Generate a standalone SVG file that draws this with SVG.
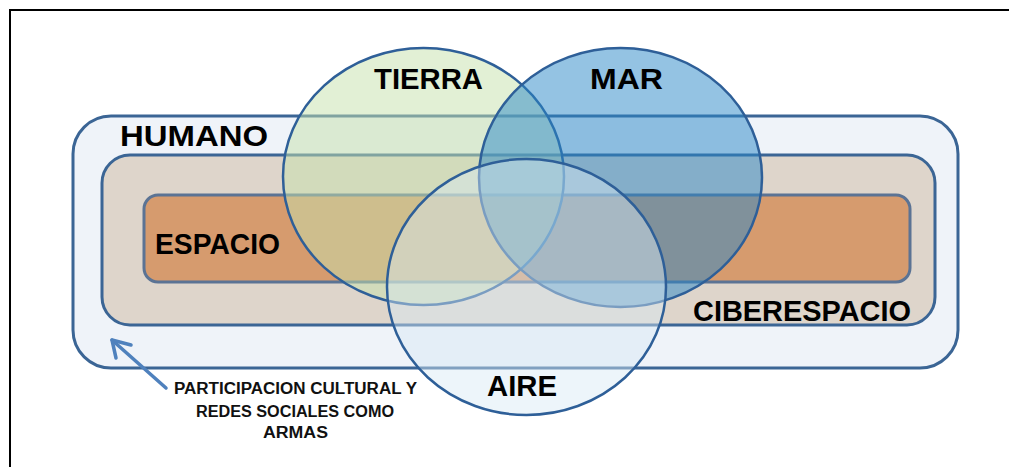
<svg xmlns="http://www.w3.org/2000/svg" width="1009" height="467" viewBox="0 0 1009 467">
<style>
.frame{fill:none;stroke:#000;stroke-width:2}
.box{stroke:#3b6595;stroke-width:3}
.circ{stroke:#2e5f98;stroke-width:2.5}
.big{font-family:"Liberation Sans",Arial,sans-serif;font-weight:bold;font-size:30px;fill:#000}
.small{font-family:"Liberation Sans",Arial,sans-serif;font-weight:bold;font-size:16px;fill:#111;text-anchor:middle}
.arrow{fill:none;stroke:#4f81bd;stroke-width:3.5;stroke-linecap:round;stroke-linejoin:round}
</style>
<rect width="1009" height="467" fill="#fff"/>
<path class="frame" d="M10,467 V10 H1009"/>
<g id="humano">
<rect class="box" x="73" y="116" width="885" height="252" rx="38" fill="#eff3f9"/>
<text class="big" x="120" y="146" textLength="148" lengthAdjust="spacingAndGlyphs">HUMANO</text>
</g>
<g id="ciberespacio">
<rect class="box" x="102" y="155" width="833" height="170" rx="28" fill="#ded5cb"/>
<text class="big" x="693" y="321" textLength="218" lengthAdjust="spacingAndGlyphs">CIBERESPACIO</text>
</g>
<g id="espacio">
<rect x="144" y="195" width="766" height="87" rx="14" fill="#d69b6e" stroke="#5b7394" stroke-width="3"/>
<text class="big" x="155" y="254" textLength="125" lengthAdjust="spacingAndGlyphs">ESPACIO</text>
</g>
<g id="tierra">
<ellipse class="circ" cx="423.5" cy="176.5" rx="140.5" ry="128.5" fill="#c5e2ab" fill-opacity="0.5"/>
<text class="big" x="374" y="89" textLength="109" lengthAdjust="spacingAndGlyphs">TIERRA</text>
</g>
<g id="mar">
<ellipse class="circ" cx="620.5" cy="177.5" rx="141.5" ry="129.5" fill="#2a88c8" fill-opacity="0.5"/>
<text class="big" x="590" y="89" textLength="73" lengthAdjust="spacingAndGlyphs">MAR</text>
</g>
<g id="aire">
<ellipse class="circ" cx="526.5" cy="287" rx="139.5" ry="128" fill="#d8e8f4" fill-opacity="0.45"/>
<text class="big" x="487" y="396" textLength="70" lengthAdjust="spacingAndGlyphs">AIRE</text>
</g>
<g id="nota">
<text class="small" x="295.5" y="394" textLength="243" lengthAdjust="spacingAndGlyphs">PARTICIPACION CULTURAL Y</text>
<text class="small" x="295" y="417" textLength="198" lengthAdjust="spacingAndGlyphs">REDES SOCIALES COMO</text>
<text class="small" x="295.5" y="438" textLength="65" lengthAdjust="spacingAndGlyphs">ARMAS</text>
</g>
<g id="connectors">
<path class="arrow" d="M166,388 L112,340"/>
<path class="arrow" d="M116,358 L112,340 L131,345"/>
</g>
</svg>
